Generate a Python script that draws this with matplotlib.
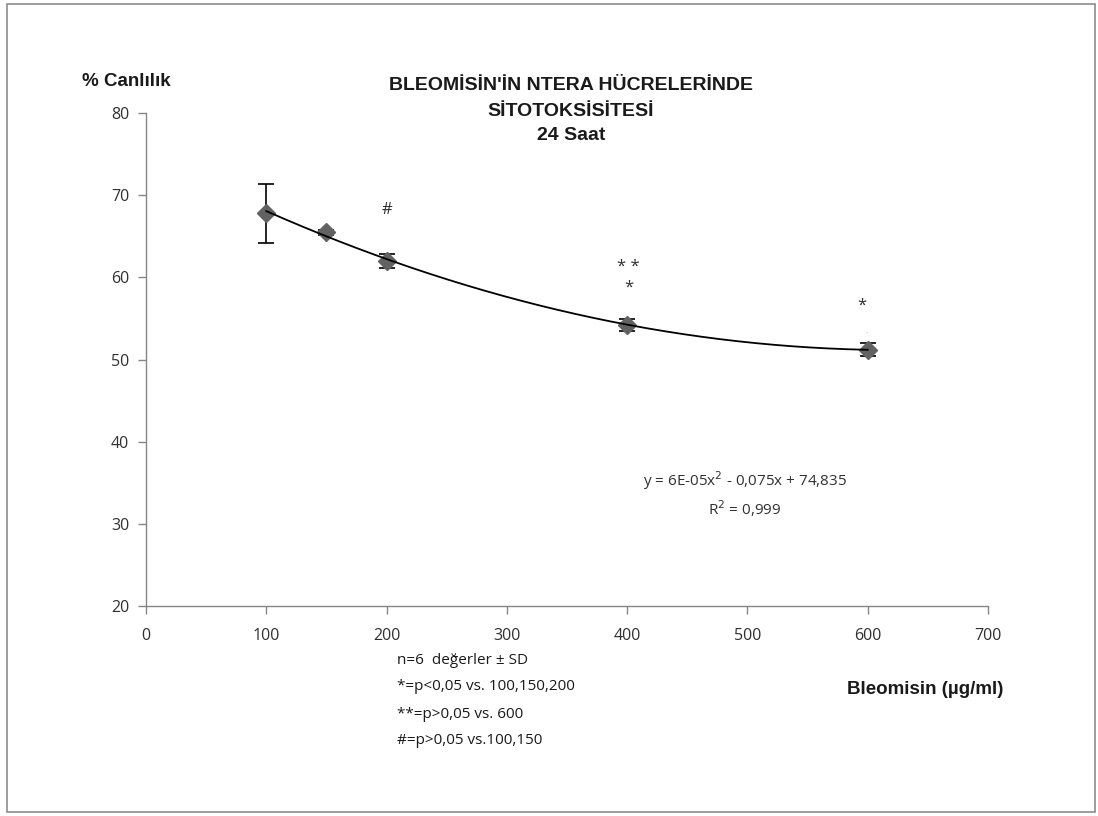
import numpy as np
import matplotlib.pyplot as plt
import matplotlib.patches as mpatches

# ── Data ─────────────────────────────────────────────────────────────────────
doses = [100, 150, 200, 400, 600]          # Bleomisin (µg/ml)
viability = [67.8, 65.5, 62.0, 54.2, 51.2]  # % Canlılık
sd = [3.6, 0.3, 0.9, 0.7, 0.8]

x_ticks = [0, 100, 200, 300, 400, 500, 600, 700]
y_ticks = [20, 30, 40, 50, 60, 70, 80]

title_lines = ["BLEOMİSİN'İN NTERA HÜCRELERİNDE", "SİTOTOKSİSİTESİ", "24 Saat"]
notes = ["n=6  değerler ± SD",
         "*=p<0,05 vs. 100,150,200",
         "**=p>0,05 vs. 600",
         "#=p>0,05 vs.100,150"]
equation = "y = 6E-05x$^2$ - 0,075x + 74,835\nR$^2$ = 0,999"

# ── Style ────────────────────────────────────────────────────────────────────
W, H, DPI = 1098, 816, 100
AX_GRAY = "#868686"
TXT = "#303030"
BOLD_FONT = "Liberation Sans"
REG_FONT = "Open Sans"

fig = plt.figure(figsize=(W / DPI, H / DPI), dpi=DPI)
fig.patch.set_facecolor("white")

# outer chart frame
fig.patches.append(mpatches.Rectangle(
    (7 / W, 4 / H), (1095 - 7) / W, (812 - 4) / H,
    transform=fig.transFigure, fill=False, edgecolor="#8c8c8c", lw=1.2))

ax = fig.add_axes([146 / W, 1 - 606 / H, (988 - 146) / W, (606 - 113) / H])
ax.set_xlim(0, 700)
ax.set_ylim(20, 80)
ax.set_xticks(x_ticks)
ax.set_yticks(y_ticks)
for s in ("top", "right"):
    ax.spines[s].set_visible(False)
for s in ("left", "bottom"):
    ax.spines[s].set_color(AX_GRAY)
    ax.spines[s].set_linewidth(1.0)
ax.tick_params(axis="both", direction="out", length=6, width=1.0,
               color=AX_GRAY, labelcolor=TXT, labelsize=11.5)
ax.tick_params(axis="x", pad=10)
ax.tick_params(axis="y", pad=6)
for lab in ax.get_xticklabels() + ax.get_yticklabels():
    lab.set_fontfamily(REG_FONT)

# trendline: 2nd order polynomial through the means
coef = np.polyfit(doses, viability, 2)
xs = np.linspace(min(doses), max(doses), 200)
ax.plot(xs, np.polyval(coef, xs), color="black", lw=1.3, zorder=3)

ax.errorbar(doses, viability, yerr=sd, fmt="D", color="#626262",
            markersize=9.5, ecolor="black", elinewidth=1.2, capsize=6,
            capthick=1.2, zorder=2)

# significance marks
mark_kw = dict(ha="center", va="center", fontsize=12, family=REG_FONT, color=TXT)
ax.text(200, 68.2, "#", **mark_kw)
ax.text(401, 61.3, "* *", **mark_kw)
ax.text(401, 58.7, "*", **mark_kw)
ax.text(595, 56.5, "*", **mark_kw)
ax.text(599, 53.4, ".", ha="center", va="center", fontsize=6,
        family=REG_FONT, color="#999999")

ax.text(498, 33.6, equation, ha="center", va="center", fontsize=11,
        family=REG_FONT, color=TXT, linespacing=1.35)

# titles and axis labels (figure coordinates from pixel positions)
for txt, y in zip(title_lines, [86, 112, 135]):
    fig.text(571 / W, 1 - y / H, txt, ha="center", va="center",
             fontsize=14, fontweight="bold", family=BOLD_FONT, color="#1a1a1a")

fig.text(82 / W, 1 - 82 / H, "% Canlılık", ha="left", va="center",
         fontsize=13.5, fontweight="bold", family=BOLD_FONT, color="#1a1a1a")
fig.text(1003 / W, 1 - 690 / H, "Bleomisin (µg/ml)", ha="right", va="center",
         fontsize=13.5, fontweight="bold", family=BOLD_FONT, color="#1a1a1a")

for i, line in enumerate(notes):
    fig.text(397 / W, 1 - (660 + 27 * i) / H, line, ha="left", va="center",
             fontsize=11, family=REG_FONT, color="#1a1a1a")

fig.savefig("out.png", dpi=DPI)
